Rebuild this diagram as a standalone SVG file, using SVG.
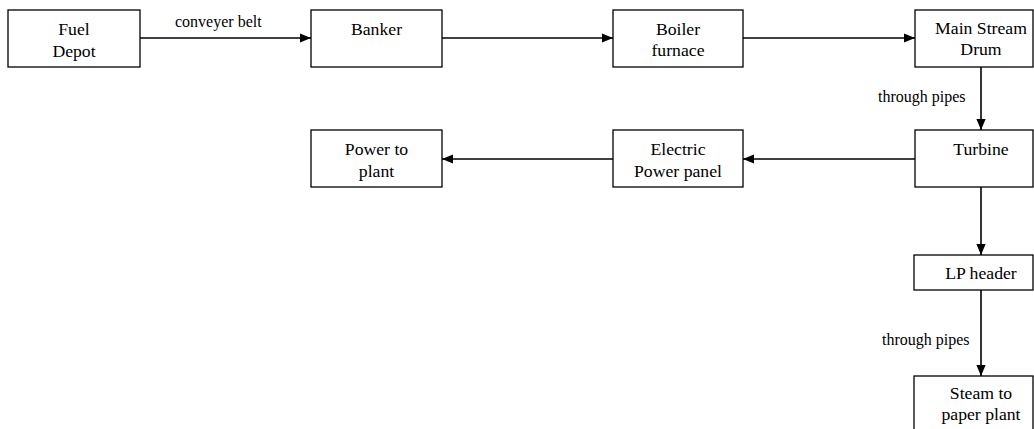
<svg xmlns="http://www.w3.org/2000/svg" width="1034" height="429" viewBox="0 0 1034 429">
  <defs>
    <marker id="arrow" viewBox="0 0 10 10" refX="10" refY="5" markerWidth="11" markerHeight="11" markerUnits="userSpaceOnUse" orient="auto">
      <path d="M0,0.8 L10,5 L0,9.2 Z" fill="#000"/>
    </marker>
    <style>
      .box { fill: #fff; stroke: #000; stroke-width: 1.3; }
      .txt { font-family: 'Liberation Serif', 'Times New Roman', 'DejaVu Serif', serif; font-size: 17.7px; fill: #000; text-anchor: middle; }
      .lbl { font-family: 'Liberation Serif', 'Times New Roman', 'DejaVu Serif', serif; font-size: 16px; fill: #000; }
      .edge { stroke: #000; stroke-width: 1.6; fill: none; marker-end: url(#arrow); }
    </style>
  </defs>
  <rect width="1034" height="429" fill="#fff"/>

  <g id="connectors">
    <path class="edge" d="M140,38 H311"/>
    <path class="edge" d="M442,38 H613"/>
    <path class="edge" d="M743,38 H915"/>
    <path class="edge" d="M981,67 V130"/>
    <path class="edge" d="M915,159 H743"/>
    <path class="edge" d="M613,159 H442"/>
    <path class="edge" d="M981,187 V255"/>
    <path class="edge" d="M981,290 V376"/>
    <text class="lbl" x="175" y="27">conveyer belt</text>
    <text class="lbl" x="878" y="102">through pipes</text>
    <text class="lbl" x="882" y="345">through pipes</text>
  </g>

  <g id="fuel-depot">
    <rect class="box" x="8" y="10" width="132" height="57"/>
    <text class="txt" x="74" y="35">Fuel</text>
    <text class="txt" x="74" y="57">Depot</text>
  </g>
  <g id="banker">
    <rect class="box" x="311" y="10" width="131" height="57"/>
    <text class="txt" x="376.5" y="35">Banker</text>
  </g>
  <g id="boiler-furnace">
    <rect class="box" x="613" y="10" width="130" height="57"/>
    <text class="txt" x="678" y="35">Boiler</text>
    <text class="txt" x="678" y="56">furnace</text>
  </g>
  <g id="main-stream-drum">
    <rect class="box" x="915" y="10" width="118" height="57"/>
    <text class="txt" x="981" y="34">Main Stream</text>
    <text class="txt" x="981" y="55">Drum</text>
  </g>
  <g id="turbine">
    <rect class="box" x="915" y="130" width="118" height="57"/>
    <text class="txt" x="981" y="155">Turbine</text>
  </g>
  <g id="electric-power-panel">
    <rect class="box" x="613" y="130" width="130" height="57"/>
    <text class="txt" x="678" y="155">Electric</text>
    <text class="txt" x="678" y="177">Power panel</text>
  </g>
  <g id="power-to-plant">
    <rect class="box" x="311" y="130" width="131" height="57"/>
    <text class="txt" x="376.5" y="155">Power to</text>
    <text class="txt" x="376.5" y="177">plant</text>
  </g>
  <g id="lp-header">
    <rect class="box" x="914" y="255" width="119" height="35"/>
    <text class="txt" x="981" y="279">LP header</text>
  </g>
  <g id="steam-to-paper-plant">
    <rect class="box" x="914" y="376" width="119" height="60"/>
    <text class="txt" x="981" y="399">Steam to</text>
    <text class="txt" x="981" y="420">paper plant</text>
  </g>
</svg>
